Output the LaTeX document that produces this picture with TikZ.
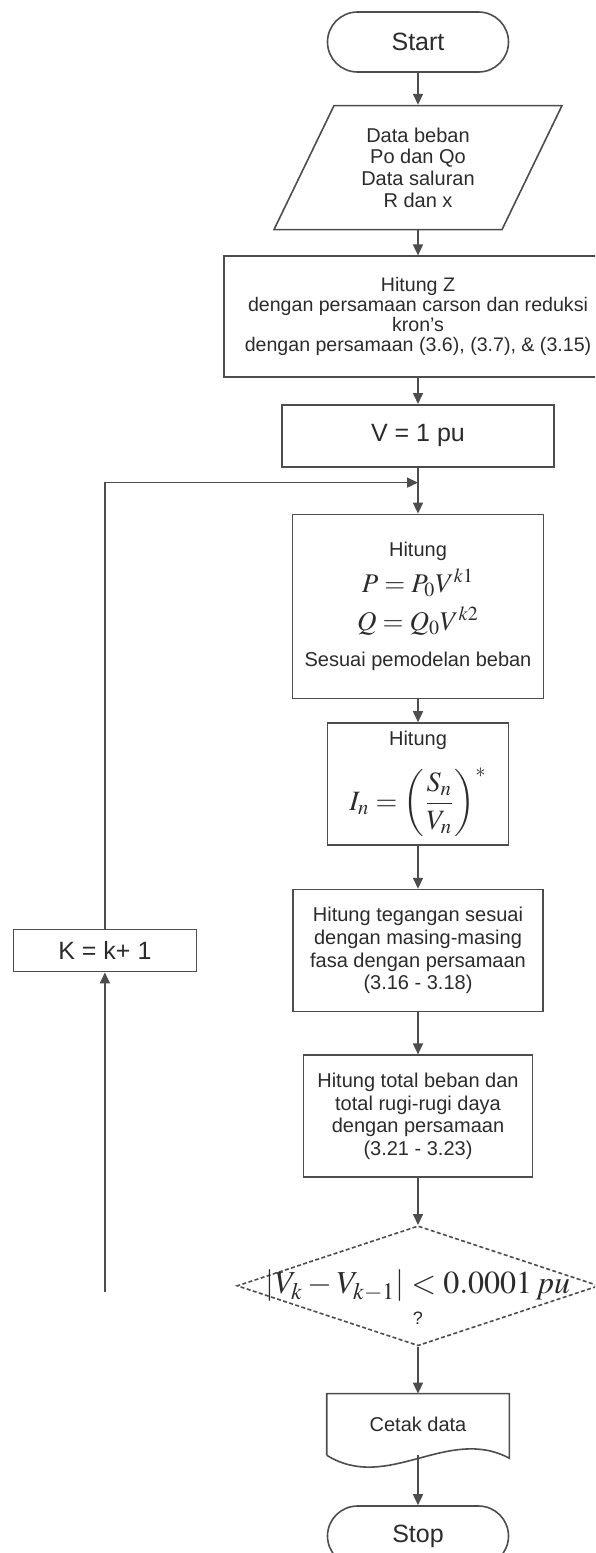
\documentclass[tikz,border=0pt]{standalone}
\usepackage{mathptmx}
\usepackage[no-math]{fontspec}
\setmainfont{Liberation Sans}
\usepackage{amsmath}
\usetikzlibrary{arrows.meta, positioning, shapes.geometric, calc}
\definecolor{garis}{HTML}{4D4D4D}
\definecolor{tulisan}{HTML}{2B2B2B}

\begin{document}
\begin{tikzpicture}[
  x=0.5pt, y=0.5pt,
  blok/.style={rectangle, draw=garis, line width=0.8pt, align=center,
               inner sep=2pt, text=tulisan, font=\fontsize{10}{11.3}\selectfont},
  ujung/.style={blok, rounded corners=15pt, minimum width=90.5pt,
                minimum height=30pt, font=\fontsize{12.5}{14}\selectfont},
  masuk/.style={blok, draw=none, font=\fontsize{10}{10.9}\selectfont},
  pilih/.style={diamond, draw=garis, line width=0.8pt, dash pattern=on 2pt off 1.2pt,
                inner sep=0pt, minimum width=181pt, minimum height=60pt, text=tulisan},
  panah/.style={-{Triangle[length=5.5pt, width=5pt]}, line width=0.8pt, color=garis},
  garis1/.style={line width=0.8pt, color=garis}
]
  \path[use as bounding box, clip] (0,0) rectangle (595,-1553);

  \node[ujung] (start) at (418,-42) {Start};
  \node[masuk, below=16pt of start, minimum width=114pt, minimum height=62pt] (data)
       {Data beban\\Po dan Qo\\Data saluran\\R dan x};
  \draw[garis1] ($(data)+(-84,62)$) -- ++(228,0) -- ++(-60,-124) -- ++(-228,0) -- cycle;
  \node[blok, below=12.5pt of data, minimum width=194pt, minimum height=60.5pt,
        font=\fontsize{9.8}{10}\selectfont] (hz)
       {Hitung Z\\dengan persamaan carson dan reduksi\\kron's\\dengan persamaan (3.6), (3.7), \& (3.15)};
  \node[blok, below=13pt of hz, minimum width=136pt, minimum height=31pt,
        font=\fontsize{12.5}{14}\selectfont] (vsatu) {V = 1 pu};
  \coordinate (temu) at ($(vsatu.south)+(0,-15)$);
  \node[blok, below=23pt of vsatu, minimum width=125.5pt, minimum height=92pt] (hpq)
       {Hitung\\[3pt]
        {\fontsize{13.5}{14}\selectfont$P=P_0V^{k1}$}\\[4pt]
        {\fontsize{13.5}{14}\selectfont$Q=Q_0V^{k2}$}\\[7pt]
        Sesuai pemodelan beban};
  \node[blok, below=11.5pt of hpq, minimum width=90.5pt, minimum height=61pt] (hi)
       {Hitung\\[8pt]
        {\fontsize{14}{14}\selectfont$\displaystyle I_n=\left(\frac{S_n}{V_n}\right)^{*}$}};
  \node[blok, below=21.5pt of hi, minimum width=125pt, minimum height=61pt] (hv)
       {Hitung tegangan sesuai\\dengan masing-masing\\fasa dengan persamaan\\(3.16 - 3.18)};
  \node[blok, below=21pt of hv, minimum width=114.5pt, minimum height=61pt] (htot)
       {Hitung total beban dan\\total rugi-rugi daya\\dengan persamaan\\(3.21 - 3.23)};
  \node[pilih, below=23.5pt of htot] (cek)
       {\makebox[0pt]{\fontsize{16}{16}\selectfont$\left|V_k-V_{k-1}\right|<0.0001\,pu$}};
  \node[text=tulisan, font=\fontsize{9}{9}\selectfont] (tanya) at ($(cek)+(0,-32)$) {?};
  \node[blok, draw=none, below=23.5pt of cek, minimum width=90.5pt, minimum height=30pt] (cetak)
       {Cetak data};
  \draw[garis1] (cetak.south west) -- (cetak.north west) -- (cetak.north east)
    -- ([yshift=-1.5pt]cetak.south east)
    .. controls ($(cetak.south)+(29.5,30)$) and ($(cetak.south)+(-30.5,-38)$) .. (cetak.south west);
  \node[ujung, below=25pt of cetak] (stop) {Stop};
  \node[blok, left=47.5pt of hv, minimum width=91.5pt, minimum height=21pt,
        font=\fontsize{12.5}{14}\selectfont] (kbaru) {K = k+ 1};
  \coordinate (bawah) at ($(kbaru.south |- cek.west)+(0,-6)$);

  \draw[panah] (start) -- (data);
  \draw[panah] (data) -- (hz);
  \draw[panah] (hz) -- (vsatu);
  \draw[panah] (vsatu) -- (hpq);
  \draw[panah] (kbaru) |- (temu);
  \draw[panah] (hpq) -- (hi);
  \draw[panah] (hi) -- (hv);
  \draw[panah] (hv) -- (htot);
  \draw[panah] (htot) -- (cek);
  \draw[panah] (cek) -- (cetak);
  \draw[panah] (cetak) -- (stop);
  \draw[panah] (bawah) -- (kbaru);
\end{tikzpicture}
\end{document}
